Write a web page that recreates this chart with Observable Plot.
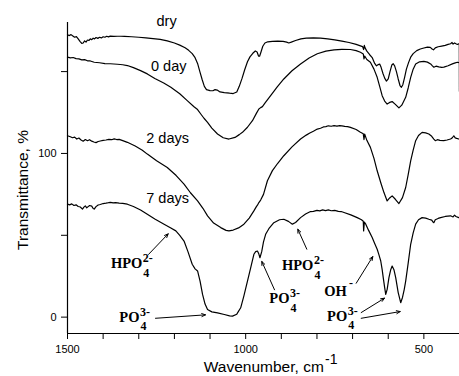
<!DOCTYPE html>
<html><head><meta charset="utf-8">
<script src="https://cdn.jsdelivr.net/npm/d3@7"></script>
<script src="https://cdn.jsdelivr.net/npm/@observablehq/plot@0.6"></script>
<style>body{margin:0;background:#fff}</style>
</head><body><div id="chart"></div>
<script>
// Spectra: [wavenumber (cm-1), transmittance (%)]
const dry = [[1500,172.5],[1495,172],[1490,172.6],[1485,171.8],[1480,171],[1475,171.4],[1470,170],[1465,168.5],[1460,167.2],[1456,167.5],[1452,168.8],[1448,168],[1444,169.3],[1440,169],[1436,170],[1432,169.5],[1428,170.4],[1424,170],[1420,170.8],[1415,170.3],[1410,171],[1405,170.6],[1400,171.3],[1395,171],[1390,171.6],[1385,171.2],[1380,171.7],[1370,171.5],[1360,171.6],[1350,171.6],[1340,171.5],[1320,171.3],[1300,171],[1280,170.6],[1260,170.2],[1240,169.7],[1220,168.8],[1200,167.5],[1185,166.2],[1170,164.6],[1160,163],[1150,161],[1142,158.5],[1135,155],[1128,149.5],[1122,145],[1116,141],[1110,139],[1100,138.4],[1092,138.3],[1086,139],[1080,138.7],[1072,137.6],[1060,137.2],[1045,136.8],[1035,136.6],[1025,137.5],[1018,141],[1010,146],[1003,151],[995,156],[988,159],[980,161.2],[973,162.6],[968,162],[964,159.5],[961,159.4],[957,162],[952,165.5],[946,167.5],[938,168.2],[925,168.5],[910,168.6],[895,168.5],[885,168],[879,167.5],[872,168],[860,169],[845,170],[830,170.5],[810,170.6],[790,170.4],[770,170],[750,169.4],[730,168.6],[710,167.8],[690,166.6],[680,165.9],[672,165.3],[669,163.5],[667,166],[665,164.5],[660,162.5],[652,160.3],[645,158.6],[638,155],[633,153.5],[628,154.3],[624,154.6],[620,152.6],[615,149],[610,146],[605,144.2],[600,145.5],[595,150],[590,154],[586,154.8],[582,153.5],[577,150],[572,145.5],[567,141.5],[563,140.4],[559,142],[554,146.5],[549,151.5],[543,155.5],[537,158.8],[530,161],[520,162.8],[510,163.8],[500,164.4],[490,165],[482,164.8],[477,163.8],[473,163.3],[468,164.5],[460,165.2],[450,165.6],[440,166],[432,166.6],[425,167],[421,167.8],[418,166.8],[414,167.5],[410,167],[406,166.6],[402,167],[400.6,166.8],[400.3,138]];
const day0 = [[1500,158.8],[1492,158.4],[1484,158.6],[1476,157.9],[1468,157.8],[1460,157.2],[1452,157.3],[1444,156.6],[1436,156.5],[1425,155.7],[1410,155.4],[1395,154.9],[1380,154.8],[1360,154.5],[1345,154.2],[1332,153.7],[1315,152.4],[1295,150.6],[1276,148.6],[1255,145.8],[1230,143],[1210,140.4],[1185,136.5],[1164,132.3],[1145,128.5],[1135,126.8],[1126,124.1],[1117,121.5],[1107,119],[1095,115.5],[1079,111.9],[1063,109.6],[1047,108.8],[1030,109.8],[1018,111.5],[1009,112.9],[995,116],[981,120],[970,124.5],[963,127.2],[958,128],[953,128.6],[945,131],[930,135.3],[912,140.5],[893,145.5],[870,150.5],[846,154.7],[822,158.3],[799,160.9],[775,162.5],[752,163.3],[730,163.6],[706,163.5],[690,162.8],[678,161.8],[670,160.8],[668,157.8],[666,159.5],[660,157.4],[650,155.7],[640,151.5],[631,146.5],[624,141],[617,135.3],[610,132],[603,130.2],[596,131.2],[589,131.7],[580,130],[570,127.8],[562,129.5],[551,134.3],[544,140],[537,146.5],[530,151.5],[523,154.7],[512,156],[500,156.3],[490,155.8],[481,154.7],[476,153.5],[472,152.7],[466,153.3],[458,152.9],[450,152.6],[444,152.7],[432,153.6],[420,154.7],[412,155.3],[406,155.7],[401,155.4]];
const days2 = [[1500,110.8],[1492,110.2],[1486,109.6],[1480,110],[1474,108.8],[1468,109.4],[1462,108.2],[1456,107.5],[1450,108.5],[1444,107.8],[1438,108.4],[1432,107.5],[1426,107],[1420,106.6],[1414,107.3],[1408,107.6],[1400,108],[1392,108.2],[1384,108.6],[1376,108.4],[1369,108.9],[1362,108.5],[1355,108.6],[1345,107.8],[1332,106.8],[1310,104.5],[1290,102],[1276,99.6],[1250,95.5],[1220,91.4],[1195,86.5],[1173,81.3],[1155,76],[1135,71],[1120,66.5],[1107,61.9],[1090,57.5],[1070,54.7],[1055,53],[1047,52.7],[1035,53.2],[1020,54.5],[1005,56.8],[990,60.5],[977,64.9],[970,67.5],[967,68.4],[963,70],[958,71.5],[950,75],[939,83.3],[925,89.5],[910,94],[893,98.6],[870,104],[846,108.8],[830,111.2],[820,112.5],[810,113.6],[799,114.9],[790,115.4],[782,116.2],[775,116.4],[768,116.9],[760,116.6],[752,117],[744,116.7],[736,117],[730,116.8],[722,116.5],[714,116.4],[706,115.9],[690,114.6],[678,112.9],[670,112],[668,108.5],[666,111.8],[660,108],[650,103.7],[640,97],[631,89.4],[620,81.5],[612,76.1],[603,71],[596,72.8],[589,74.1],[580,72],[570,69.4],[560,73],[551,79.2],[544,87],[537,95.5],[530,102],[523,107.8],[515,111],[505,112.9],[495,112.6],[486,111.9],[478,110.5],[472,108.8],[468,107.8],[462,108.4],[455,108],[444,107.8],[435,108.2],[425,108.8],[420,109.6],[416,110.8],[412,109.5],[408,109.2],[402,108.8]];
const days7 = [[1500,69],[1494,68.6],[1488,69.2],[1482,68.2],[1476,68.6],[1470,67.6],[1464,67.3],[1458,66],[1454,67.2],[1450,68],[1446,66.8],[1442,67.5],[1438,68.2],[1432,67.8],[1428,66.4],[1425,66],[1420,67.5],[1414,68.5],[1408,68.8],[1400,69.4],[1392,69.6],[1385,69.9],[1379,70.1],[1372,69.8],[1365,70],[1355,69.7],[1345,69.5],[1332,69],[1315,67.6],[1295,65.5],[1276,62.9],[1255,60],[1229,56.8],[1210,54.5],[1196,52.7],[1185,50],[1173,46.5],[1162,40],[1150,32.3],[1142,29.5],[1135,28.2],[1128,22],[1121,13.9],[1114,8],[1107,4.7],[1095,3.2],[1079,2.6],[1060,1.6],[1045,0.8],[1037,0.6],[1025,1.8],[1014,5.7],[1005,13],[995,22],[985,31],[977,38.4],[972,40],[967,40.4],[963,38.5],[960,36.3],[955,40],[950,46],[944,50.6],[935,54],[921,57.7],[905,59.5],[893,59.8],[880,58.5],[869,56.8],[860,57.8],[846,60.8],[832,63],[818,64.5],[810,64.6],[800,65.2],[792,64.9],[784,65.5],[776,65.1],[768,65.5],[760,65],[750,65.2],[740,64.6],[732,64.5],[724,63.9],[705,62.5],[687,60.8],[675,59.5],[670,58.6],[669,52.7],[667,58],[663,56.8],[655,53],[645,48.6],[638,45],[631,41.5],[626,38],[621,34.3],[617,29],[614,24.1],[610,18],[607,13.9],[603,17],[598,24.1],[593,29],[589,31.2],[584,29],[579,24.1],[572,15],[565,8.8],[560,12],[555,17],[551,22],[544,33],[537,44.5],[530,51.5],[523,56.8],[515,59.5],[505,60.8],[495,60.5],[486,59.8],[478,59.3],[474,58],[472,57.7],[468,59.5],[460,60.3],[453,60.8],[440,61.5],[425,61.9],[418,61.2],[414,62.3],[410,61.5],[402,60.8]];

const curveLabels = [
  {text: "dry", wn: 1222, t: 177.9},
  {text: "0 day", wn: 1216, t: 150.5},
  {text: "2 days", wn: 1219, t: 106.3},
  {text: "7 days", wn: 1219, t: 69.7}
];
// band labels: wn/t = junction of main text and its super/subscript, at baseline
const ions = [
  {main: "HPO", sup: "2-", sub: "4", wn: 1290, t: 29.9},
  {main: "PO", sup: "3-", sub: "4", wn: 1298, t: -2.7},
  {main: "PO", sup: "3-", sub: "4", wn: 877, t: 8.5},
  {main: "HPO", sup: "2-", sub: "4", wn: 810, t: 28.5},
  {main: "OH", sup: "", sub: "", wn: 716, t: 13},
  {main: "PO", sup: "3-", sub: "4", wn: 715, t: -2.2}
];
const ohCharge = [{text: "-", wn: 716, t: 13}];
const arrows = [
  {x1: 1272.7, y1: 38.3, x2: 1217.4, y2: 50.9},
  {x1: 1253.1, y1: -0.7, x2: 1112.8, y2: 1.4},
  {x1: 919.1, y1: 16.7, x2: 954.8, y2: 34},
  {x1: 828.5, y1: 41.5, x2: 853.7, y2: 53.7},
  {x1: 689.9, y1: 20.7, x2: 643.3, y2: 37},
  {x1: 675.8, y1: 2.8, x2: 610.4, y2: 11.6},
  {x1: 675.8, y1: -0.7, x2: 566.4, y2: 3.4}
];
const xTicks = d3.range(500, 1501, 100);
const xLabelled = [1500, 1000, 500];
const yTicks = [0, 50, 100, 150];
const yLabelled = [0, 100];

const sans = "'Liberation Sans', Arial, Helvetica, sans-serif";
const serif = "'Liberation Serif', 'Times New Roman', serif";
const series = [dry, day0, days2, days7];

const chart = Plot.plot({
  width: 459, height: 376,
  marginLeft: 67, marginRight: 0, marginTop: 22, marginBottom: 43,
  style: {fontFamily: sans, fontSize: "11px", background: "white", color: "black", overflow: "visible"},
  x: {domain: [1500, 400]},
  y: {domain: [-10, 180]},
  marks: [
    Plot.axisX({ticks: xTicks, tickFormat: d => xLabelled.includes(d) ? String(d) : "", tickSize: 6, tickPadding: 6, label: null}),
    Plot.axisY({ticks: yTicks, tickFormat: d => yLabelled.includes(d) ? String(d) : "", tickSize: 6, tickPadding: 5, label: null}),
    Plot.ruleX([1500], {strokeWidth: 1.2}),
    Plot.ruleY([-10], {strokeWidth: 1.2}),
    ...series.map(s => Plot.line(s, {x: d => d[0], y: d => d[1], stroke: "black", strokeWidth: 1.2})),
    Plot.text(curveLabels, {x: "wn", y: "t", text: "text", textAnchor: "middle", lineAnchor: "bottom", fontSize: 14.5, fontFamily: sans}),
    Plot.text(ions, {x: "wn", y: "t", text: "main", textAnchor: "end", lineAnchor: "bottom", fontSize: 14.5, fontWeight: "bold", fontFamily: serif}),
    Plot.text(ions, {x: "wn", y: "t", text: "sup", textAnchor: "start", lineAnchor: "bottom", dx: 0.5, dy: -6, fontSize: 12, fontWeight: "bold", fontFamily: serif}),
    Plot.text(ions, {x: "wn", y: "t", text: "sub", textAnchor: "start", lineAnchor: "bottom", dx: 1, dy: 8.5, fontSize: 12, fontWeight: "bold", fontFamily: serif}),
    Plot.text(ohCharge, {x: "wn", y: "t", text: "text", textAnchor: "start", lineAnchor: "bottom", dx: 2, dy: -9, fontSize: 12, fontWeight: "bold", fontFamily: serif}),
    Plot.arrow(arrows, {x1: "x1", y1: "y1", x2: "x2", y2: "y2", headLength: 6, headAngle: 45, strokeWidth: 1, stroke: "black"}),
    Plot.text(["Transmittance, %"], {text: d => d, frameAnchor: "left", rotate: -90, dx: -40, dy: 12, fontSize: 15.5, lineAnchor: "bottom", textAnchor: "middle", fontFamily: sans}),
    Plot.text(["Wavenumber, cm"], {text: d => d, frameAnchor: "bottom-left", dx: 136.3, dy: 38, textAnchor: "start", lineAnchor: "bottom", fontSize: 15.5, fontFamily: sans}),
    Plot.text(["-1"], {text: d => d, frameAnchor: "bottom-left", dx: 257.5, dy: 30, textAnchor: "start", lineAnchor: "bottom", fontSize: 14, fontFamily: sans})
  ]
});
document.getElementById("chart").appendChild(chart);
</script>
</body></html>
